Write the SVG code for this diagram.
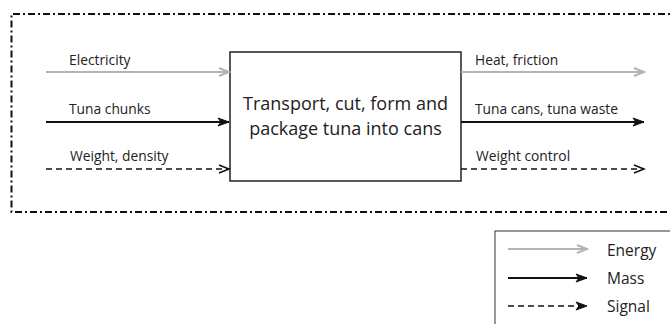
<svg xmlns="http://www.w3.org/2000/svg" width="670" height="324" viewBox="0 0 670 324">
<style>
text{font-family:"Open Sans","Liberation Sans",sans-serif;fill:#222}
.lbl{font-size:13.8px}
.big{font-size:18px}
.leg{font-size:15.5px}
.energy{stroke:#b4b4b4;stroke-width:2;fill:none}
.mass{stroke:#111;stroke-width:2;fill:none}
.signal{stroke:#111;stroke-width:1.6;fill:none;stroke-dasharray:6 4}
</style>
<defs>
<marker id="ae" markerWidth="14" markerHeight="10" refX="12" refY="5" orient="auto" markerUnits="userSpaceOnUse"><path d="M2,1 L12,5 L2,9" fill="none" stroke="#b4b4b4" stroke-width="2"/></marker>
<marker id="am" markerWidth="14" markerHeight="10" refX="12" refY="5" orient="auto" markerUnits="userSpaceOnUse"><path d="M1,1 L12,5 L1,9 L4,5 Z" fill="#111" stroke="#111" stroke-width="1"/></marker>
<marker id="as" markerWidth="14" markerHeight="10" refX="12" refY="5" orient="auto" markerUnits="userSpaceOnUse"><path d="M2,1 L12,5 L2,9" fill="none" stroke="#111" stroke-width="1.6"/></marker>
</defs>
<rect width="670" height="324" fill="#fff"/>
<g id="boundary"><path d="M680,14 H11.5 V212 H680" fill="none" stroke="#111" stroke-width="2" stroke-dasharray="7 3 2 3"/></g>
<g id="process">
<rect x="230" y="52" width="231" height="129" fill="#fff" stroke="#222" stroke-width="1.5"/>
<text class="big" x="345.5" y="110" text-anchor="middle">Transport, cut, form and</text>
<text class="big" x="345.5" y="135" text-anchor="middle">package tuna into cans</text>
</g>
<g id="connectors">
<line class="energy" x1="46" y1="72" x2="229" y2="72" marker-end="url(#ae)"/>
<line class="mass" x1="46" y1="122" x2="229" y2="122" marker-end="url(#am)"/>
<line class="signal" x1="46" y1="169" x2="229" y2="169" marker-end="url(#as)"/>
<line class="energy" x1="461" y1="72" x2="644" y2="72" marker-end="url(#ae)"/>
<line class="mass" x1="461" y1="122" x2="644" y2="122" marker-end="url(#am)"/>
<line class="signal" x1="461" y1="169" x2="644" y2="169" marker-end="url(#as)"/>
</g>
<g id="labels">
<text class="lbl" x="69" y="65">Electricity</text>
<text class="lbl" x="69" y="114">Tuna chunks</text>
<text class="lbl" x="70" y="161">Weight, density</text>
<text class="lbl" x="475" y="65">Heat, friction</text>
<text class="lbl" x="475" y="114">Tuna cans, tuna waste</text>
<text class="lbl" x="476" y="161">Weight control</text>
</g>
<g id="legend">
<rect x="495" y="231" width="180" height="100" fill="#fff" stroke="#333" stroke-width="1"/>
<line class="energy" x1="508" y1="249" x2="587" y2="249" marker-end="url(#ae)"/>
<line class="mass" x1="508" y1="278" x2="587" y2="278" marker-end="url(#am)"/>
<line class="signal" x1="508" y1="306" x2="587" y2="306" marker-end="url(#am)"/>
<text class="leg" x="607" y="256">Energy</text>
<text class="leg" x="607" y="284">Mass</text>
<text class="leg" x="607" y="312">Signal</text>
</g>
</svg>
